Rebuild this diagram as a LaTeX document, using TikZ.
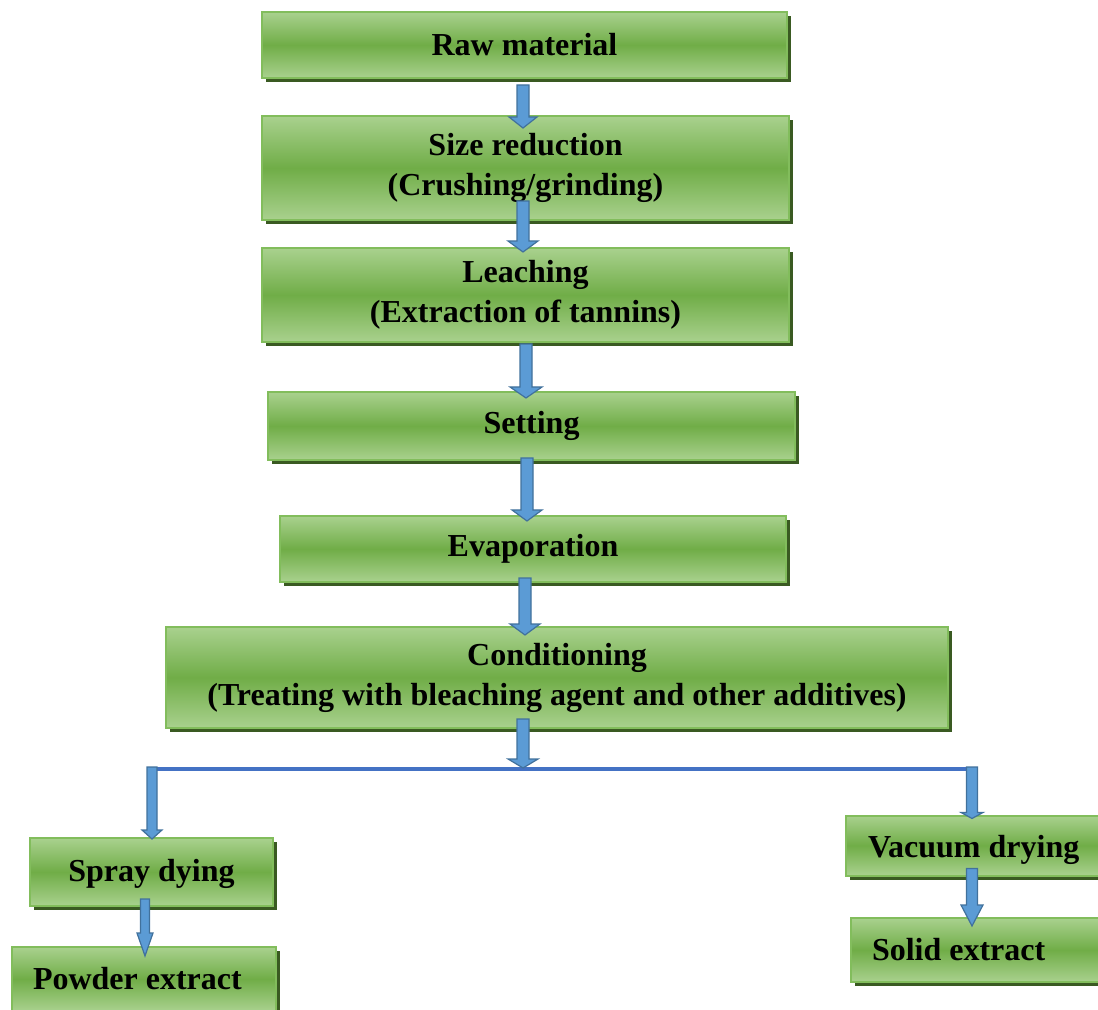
\documentclass[tikz,border=0pt]{standalone}
\usepackage{fontspec}
\setmainfont{Liberation Serif}
\usetikzlibrary{calc,shadows}

\definecolor{boxlight}{HTML}{A9D18E}
\definecolor{boxmid}{HTML}{70AD47}
\definecolor{boxedge}{HTML}{82BD5C}
\definecolor{boxshade}{HTML}{3A5A22}
\definecolor{arrowfill}{HTML}{5B9BD5}
\definecolor{arrowedge}{HTML}{41719C}
\definecolor{linkblue}{HTML}{4472C4}

\tikzset{
  stage/.style={rectangle, draw=boxedge, line width=1pt,
    top color=boxlight, bottom color=boxlight, middle color=boxmid,
    drop shadow={shadow xshift=2pt, shadow yshift=-2pt, fill=boxshade, opacity=1},
    font=\fontsize{16}{20}\selectfont\bfseries, align=center, inner sep=0pt},
  leftstage/.style={stage, inner xsep=#1},
  flow/.style={fill=arrowfill, draw=arrowedge, line width=0.6pt, line join=miter},
  linkline/.style={draw=linkblue, line width=2pt}
}

% block arrow: [shaft half width] start, tip, head half width, head length
\newcommand{\flowarrow}[5][3pt]{%
  \path[flow] let \p1=#2, \p2=#3 in
    (\x1-#1,\y1) -- (\x1+#1,\y1) -- (\x1+#1,\y2+#5) -- (\x1+#4,\y2+#5)
    -- (\x1,\y2) -- (\x1-#4,\y2+#5) -- (\x1-#1,\y2+#5) -- cycle;}

\begin{document}
\begin{tikzpicture}[x=0.5pt,y=-0.5pt]
\useasboundingbox (0,0) rectangle (1098,1010);
\clip (0,0) rectangle (1098,1010);

% stages
\node[stage, minimum width=262.5pt, minimum height=33pt] (raw) at (524.5,45) {Raw material};
\node[stage, minimum width=263.5pt, minimum height=52pt] (size) at (525.5,168) {Size reduction\\(Crushing/grinding)};
\node[stage, minimum width=263.5pt, minimum height=47pt] (leach) at (525.5,295) {Leaching\\(Extraction of tannins)};
\node[stage, minimum width=263.5pt, minimum height=34pt] (setting) at (531.5,426) {Setting};
\node[stage, minimum width=253pt, minimum height=33pt] (evap) at (533,549) {Evaporation};
\node[stage, minimum width=391pt, minimum height=50.5pt] (cond) at (557,677.5) {Conditioning\\(Treating with bleaching agent and other additives)};

% products
\node[stage, minimum width=121.5pt, minimum height=34pt, text height=13pt] (spray) at (151.5,872) {Spray dying};
\node[leftstage=10.5pt, minimum height=32pt] (powder) at (144,979) {\makebox[111pt][l]{Powder extract}};
\node[leftstage=11pt, minimum height=30pt, text height=16pt] (vacuum) at (978,845.5) {\makebox[110pt][l]{Vacuum drying}};
\node[leftstage=10.5pt, minimum height=32pt] (solid) at (983,950) {\makebox[111pt][l]{Solid extract}};

% split
\coordinate (splitL) at (148,769);
\coordinate (splitR) at (974,769);
\draw[linkline] (splitL) -- (splitR);

% arrows
\flowarrow{($(raw.south)+(-1.5,6)$)}{($(size.north)+(0,13)$)}{7pt}{5.5pt}
\flowarrow{($(size.south)+(-2.5,-20)$)}{($(leach.north)+(0,5)$)}{7.5pt}{5.5pt}
\flowarrow{($(leach.south)+(0.5,1)$)}{($(setting.north)+(0,7)$)}{8pt}{5.5pt}
\flowarrow{($(setting.south)+(-4.5,-3)$)}{($(evap.north)+(0,6)$)}{7.5pt}{5.5pt}
\flowarrow{($(evap.south)+(-8,-5)$)}{($(cond.north)+(0,9)$)}{7.5pt}{5.5pt}
\flowarrow{($(cond.south)+(-34,-10)$)}{($(splitL)+(0,-1)$)}{7.5pt}{4.5pt}
\flowarrow[2.5pt]{($(splitL)+(4,-2)$)}{($(spray.north)+(0,2)$)}{5pt}{4.5pt}
\flowarrow[2.75pt]{($(splitR)+(-2,-2)$)}{($(vacuum.north)+(0,4)$)}{5.5pt}{3pt}
\flowarrow[2.25pt]{($(spray.south)+(-6.5,-8)$)}{($(powder.north)+(0,10)$)}{4pt}{11.5pt}
\flowarrow[2.75pt]{($(vacuum.south)+(-6,-8)$)}{($(solid.north)+(0,9)$)}{5.5pt}{10.5pt}

\end{tikzpicture}
\end{document}
